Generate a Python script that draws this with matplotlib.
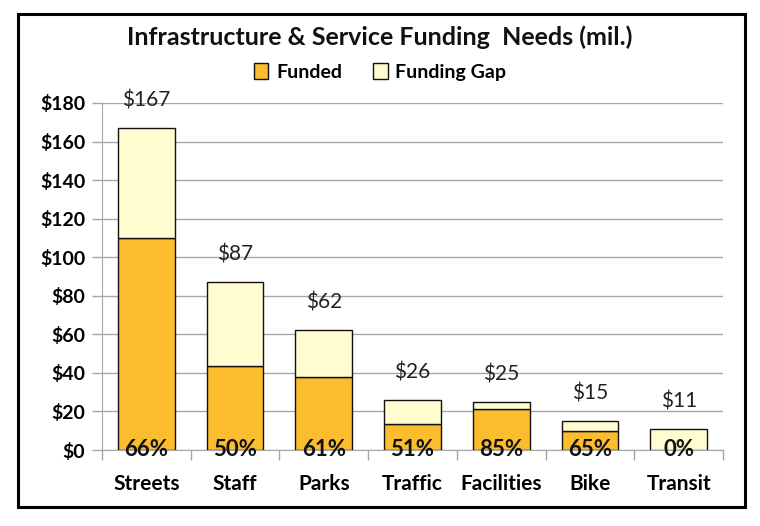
import matplotlib
matplotlib.use("Agg")
import matplotlib.pyplot as plt
from matplotlib.patches import Rectangle, Patch
import numpy as np

categories = ["Streets", "Staff", "Parks", "Traffic", "Facilities", "Bike", "Transit"]
funded = [110, 43.5, 38, 13.3, 21.2, 10, 0]
totals = [167, 87, 62, 26, 25, 15, 11]
pct_labels = ["66%", "50%", "61%", "51%", "85%", "65%", "0%"]
total_labels = ["$167", "$87", "$62", "$26", "$25", "$15", "$11"]
yticks = [0, 20, 40, 60, 80, 100, 120, 140, 160, 180]
ytick_labels = ["$0", "$20", "$40", "$60", "$80", "$100", "$120", "$140", "$160", "$180"]

gap = [t - f for t, f in zip(totals, funded)]

plt.rcParams['font.family'] = ['Lato', 'DejaVu Sans']

c_funded = "#FBBC2E"
c_gap = "#FFFDD0"

fig = plt.figure(figsize=(7.6, 5.26), dpi=100)
ax = fig.add_axes([102/760, 1-450/526, (723-102)/760, (450-103)/526])

x = np.arange(len(categories))
w = 0.64
ax.bar(x, funded, width=w, color=c_funded, edgecolor="#111111", linewidth=1.0, zorder=3)
ax.bar(x, gap, width=w, bottom=funded, color=c_gap, edgecolor="#111111", linewidth=1.0, zorder=3)

ax.set_xlim(-0.5, len(categories) - 0.5)
ax.set_ylim(0, 180)
ax.set_yticks(yticks)
ax.set_yticklabels(ytick_labels, fontsize=14, fontweight="bold")
ax.yaxis.grid(True, color="#A6A6A6", linewidth=1.0, zorder=0)
ax.set_axisbelow(True)

# x ticks at category boundaries, labels at centers
ax.set_xticks(np.arange(-0.5, len(categories), 1.0))
ax.set_xticklabels([])
ax.set_xticks(x, minor=True)
ax.set_xticklabels(categories, minor=True, fontsize=15, fontweight="bold")
ax.tick_params(axis="x", which="major", length=7, color="#A6A6A6", width=1)
ax.tick_params(axis="x", which="minor", length=0, pad=17)
ax.tick_params(axis="y", length=7, color="#A6A6A6", width=1, pad=5)

for s in ["top", "right"]:
    ax.spines[s].set_visible(False)
ax.spines["left"].set_color("#A6A6A6")
ax.spines["bottom"].set_color("#A6A6A6")
ax.spines["left"].set_zorder(1)

for xi, t, tl, pl in zip(x, totals, total_labels, pct_labels):
    ax.annotate(tl, (xi, t), xytext=(0, 20), textcoords="offset points",
                ha="center", va="center", fontsize=15, color="#222222")
    ax.text(xi, 0, pl, ha="center", va="center", fontsize=16, fontweight="bold",
            color="#111111", zorder=5, clip_on=False)

fig.text(0.5, 1-37/526, "Infrastructure & Service Funding  Needs (mil.)",
         ha="center", va="center", fontsize=18, fontweight="bold", color="#111111")

handles = [Patch(facecolor=c_funded, edgecolor="#111111", label="Funded"),
           Patch(facecolor=c_gap, edgecolor="#111111", label="Funding Gap")]
fig.legend(handles=handles, loc="center", bbox_to_anchor=(0.5, 1-72/526), ncol=2,
           frameon=False, prop={"size": 14, "weight": "bold"}, handlelength=0.75,
           handleheight=0.9, handletextpad=0.4, columnspacing=1.6)

border = Rectangle((18/760, 1-507/526), (745-18)/760, (507-14)/526,
                   transform=fig.transFigure, fill=False, edgecolor="black", linewidth=2.2)
fig.patches.append(border)

fig.savefig("out.png", dpi=100)
